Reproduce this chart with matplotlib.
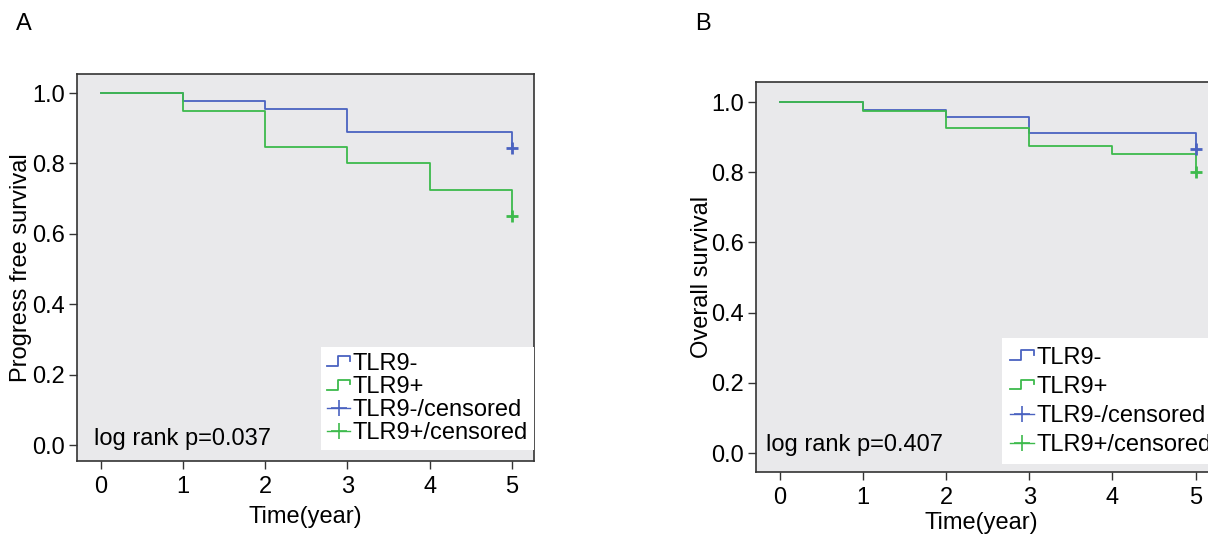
import matplotlib
matplotlib.use("Agg")
import matplotlib.pyplot as plt
from matplotlib.lines import Line2D
from matplotlib.legend_handler import HandlerBase

plt.rcParams['font.family'] = ['Liberation Sans', 'DejaVu Sans']

# Kaplan-Meier estimates
years = [0, 1, 2, 3, 4, 5]
pfs_neg = [1.0, 0.977, 0.955, 0.889, 0.889, 0.845]
pfs_pos = [1.0, 0.950, 0.848, 0.800, 0.725, 0.650]
os_neg = [1.0, 0.977, 0.956, 0.913, 0.913, 0.866]
os_pos = [1.0, 0.975, 0.926, 0.876, 0.851, 0.800]
groups = ["TLR9-", "TLR9+"]
p_values = ["0.037", "0.407"]
panel_tags = ["A", "B"]
ylabels = ["Progress free survival", "Overall survival"]

c_neg = '#4a62c0'
c_pos = '#3dba4c'
bg = '#e9e9eb'
fs = 17
fs_tick = 17


class StepHandler(HandlerBase):
    # little step symbol like the SPSS legend
    def create_artists(self, legend, orig_handle, xdescent, ydescent,
                       width, height, fontsize, trans):
        x0, y0 = -xdescent, -ydescent
        xs = [x0, x0 + 0.45*width, x0 + 0.45*width, x0 + width, x0 + width]
        ys = [y0 + 0.2*height, y0 + 0.2*height, y0 + 0.8*height,
              y0 + 0.8*height, y0 + 0.55*height]
        ln = Line2D(xs, ys, color=orig_handle.get_color(),
                    lw=orig_handle.get_linewidth())
        ln.set_transform(trans)
        return [ln]


fig = plt.figure(figsize=(12.08, 5.39), dpi=100)
ax_a = fig.add_axes([77/1208, 1 - 461/539, 457/1208, 387/539])
ax_b = fig.add_axes([756/1208, 1 - 472/539, 462/1208, 390/539])

panels = [
    (ax_a, pfs_neg, pfs_pos, (-0.045, 1.054), (-0.085, 0.018),
     dict(loc='lower right', bbox_to_anchor=(1.0, 0.028), labelspacing=0.05, borderpad=0.25),
     (-0.098, 0.5), (0.5, -0.117)),
    (ax_b, os_neg, os_pos, (-0.054, 1.057), (-0.17, 0.024),
     dict(loc='lower left', bbox_to_anchor=(0.532, 0.02), labelspacing=0.3, borderpad=0.35),
     (-0.093, 0.5), (0.488, -0.102)),
]

for i, (ax, neg, pos, ylim, ptxt, legpos, ylc, xlc) in enumerate(panels):
    ax.set_facecolor(bg)
    h1, = ax.step(years, neg, where='post', color=c_neg, lw=1.3)
    h2, = ax.step(years, pos, where='post', color=c_pos, lw=1.3)
    ax.plot(years[-1], neg[-1], '+', color=c_neg, ms=9, mew=2)
    ax.plot(years[-1], pos[-1], '+', color=c_pos, ms=9, mew=2)

    ax.set_xlim(-0.29, 5.27)
    ax.set_ylim(*ylim)
    ax.set_xticks(years)
    ax.set_yticks([0.0, 0.2, 0.4, 0.6, 0.8, 1.0])
    ax.set_yticklabels(["0.0", "0.2", "0.4", "0.6", "0.8", "1.0"])
    ax.tick_params(labelsize=fs_tick, length=5.5, width=1, color='#333333')
    ax.tick_params(axis='x', pad=5)
    ax.tick_params(axis='y', pad=3)
    for s in ax.spines.values():
        s.set_linewidth(1.2)
        s.set_color('#333333')

    ax.set_xlabel("Time(year)", fontsize=fs)
    ax.set_ylabel(ylabels[i], fontsize=fs)
    ax.yaxis.set_label_coords(*ylc)
    ax.xaxis.set_label_coords(*xlc)

    ax.text(ptxt[0], ptxt[1], "log rank p=" + p_values[i], fontsize=fs,
            ha='left', va='center')

    cens_neg = Line2D([], [], color=c_neg, lw=1, marker='+', ms=12, mew=1.2)
    cens_pos = Line2D([], [], color=c_pos, lw=1, marker='+', ms=12, mew=1.2)
    leg = ax.legend([h1, h2, cens_neg, cens_pos],
                    [groups[0], groups[1], groups[0] + "/censored", groups[1] + "/censored"],
                    handler_map={h1: StepHandler(), h2: StepHandler()},
                    fontsize=fs, frameon=True, fancybox=False, framealpha=1,
                    facecolor='white', edgecolor='none',
                    handlelength=1.0, handletextpad=0.1,
                    borderaxespad=0, numpoints=1, **legpos)

    fig.text([24, 703][i]/1208, 1 - 24/539, panel_tags[i], fontsize=fs,
             ha='center', va='center')

fig.savefig("out.png", dpi=100)
